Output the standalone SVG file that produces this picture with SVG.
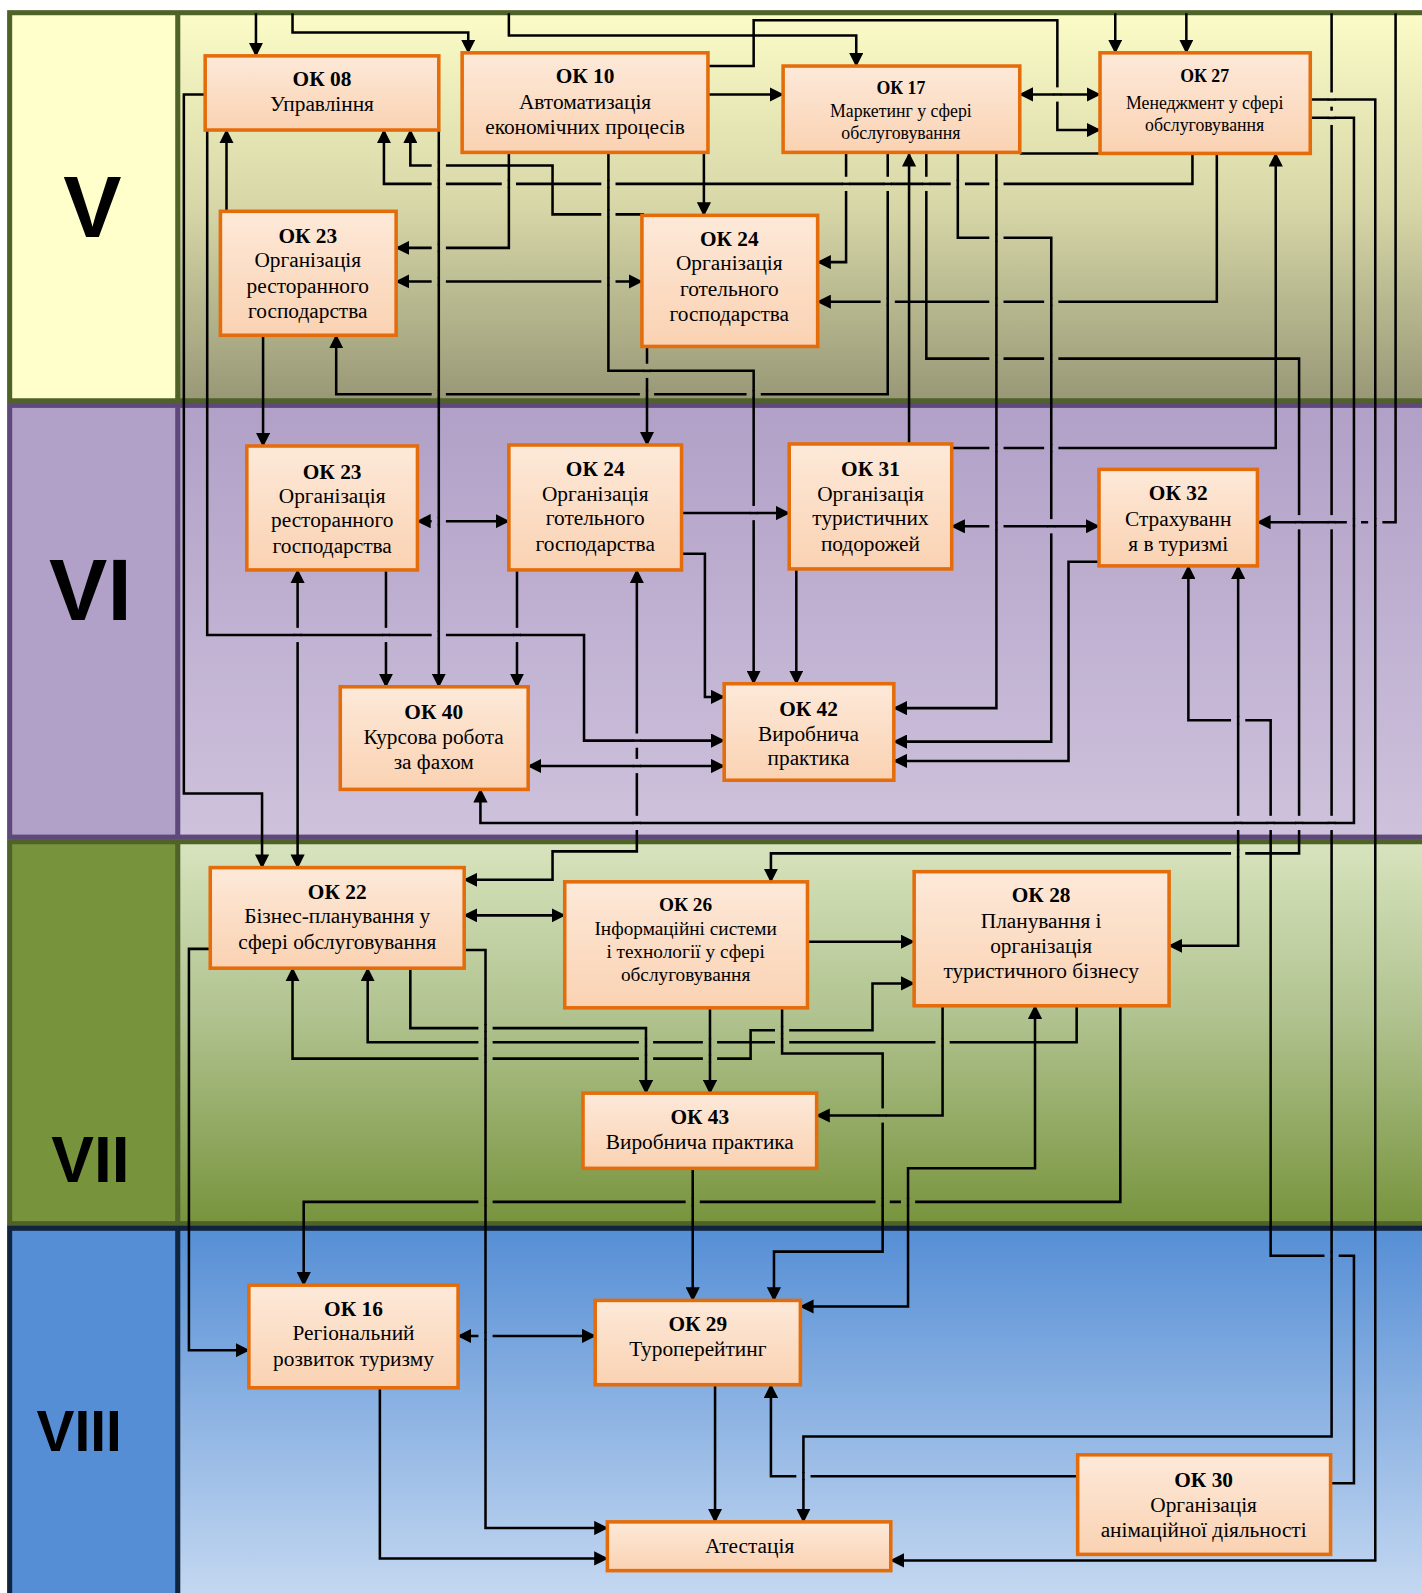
<svg xmlns="http://www.w3.org/2000/svg" width="1422" height="1593" viewBox="0 0 1422 1593">
<defs>
<style>
.box{fill:url(#gBox);stroke:#E46C0A;stroke-width:3.5}
.t{font-family:"Liberation Serif","Times New Roman",serif;font-size:21px;text-anchor:middle;fill:#000}
.tb{font-weight:bold}
.s{font-size:17.5px}
.m{font-size:19px}
.lab{font-family:"Liberation Sans",Arial,sans-serif;font-weight:bold;text-anchor:middle;fill:#000}
.c{fill:none;stroke:#000;stroke-width:2.5}
.a{marker-end:url(#ah)}
.b{marker-start:url(#ah);marker-end:url(#ah)}
.gv{fill:url(#gV)}
.gvi{fill:url(#gVI)}
.gvii{fill:url(#gVII)}
.gviii{fill:url(#gVIII)}
</style>
<marker id="ah" viewBox="0 0 14 14" refX="13" refY="7" markerWidth="14" markerHeight="14" markerUnits="userSpaceOnUse" orient="auto-start-reverse"><path d="M0,0 L14,7 L0,14 z" fill="#000"/></marker>
<linearGradient id="gBox" x1="0" y1="0" x2="0" y2="1"><stop offset="0" stop-color="#FDE9D9"/><stop offset="1" stop-color="#FAD2B2"/></linearGradient>
<linearGradient id="gV" gradientUnits="userSpaceOnUse" x1="0" y1="12" x2="0" y2="397"><stop offset="0" stop-color="#FCFCC8"/><stop offset="0.5" stop-color="#D6D6A7"/><stop offset="1" stop-color="#979776"/></linearGradient>
<linearGradient id="gVI" gradientUnits="userSpaceOnUse" x1="0" y1="397" x2="0" y2="827"><stop offset="0" stop-color="#B1A0C7"/><stop offset="1" stop-color="#CEC2DC"/></linearGradient>
<linearGradient id="gVII" gradientUnits="userSpaceOnUse" x1="0" y1="827" x2="0" y2="1207"><stop offset="0" stop-color="#D8E4BE"/><stop offset="0.45" stop-color="#B1C390"/><stop offset="1" stop-color="#77933C"/></linearGradient>
<linearGradient id="gVIII" gradientUnits="userSpaceOnUse" x1="0" y1="1207" x2="0" y2="1577"><stop offset="0" stop-color="#558ED5"/><stop offset="1" stop-color="#C6D9F1"/></linearGradient>
</defs>
<rect x="0" y="0" width="1422" height="1593" fill="#FFFFFF"/>
<g transform="scale(1.01571 1.01594)">
<g id="bands">
<rect x="9" y="12" width="166" height="385" fill="#FFFFCC"/>
<rect class="gv" x="175" y="12" width="1235" height="385"/>
<rect x="9" y="397" width="166" height="430" fill="#B1A0C7"/>
<rect class="gvi" x="175" y="397" width="1235" height="430"/>
<rect x="9" y="827" width="166" height="380" fill="#77933C"/>
<rect class="gvii" x="175" y="827" width="1235" height="380"/>
<rect x="9" y="1207" width="166" height="370" fill="#558ED5"/>
<rect class="gviii" x="175" y="1207" width="1235" height="370"/>
<rect x="9.5" y="12.5" width="1400" height="382" fill="none" stroke="#4F6228" stroke-width="5"/>
<line x1="175" y1="12" x2="175" y2="395" stroke="#4F6228" stroke-width="5"/>
<rect x="9.5" y="399" width="1400" height="425" fill="none" stroke="#5F497A" stroke-width="5"/>
<line x1="175" y1="399" x2="175" y2="824" stroke="#5F497A" stroke-width="5"/>
<rect x="9.5" y="828.5" width="1400" height="376" fill="none" stroke="#4F6228" stroke-width="5"/>
<line x1="175" y1="828" x2="175" y2="1205" stroke="#4F6228" stroke-width="5"/>
<rect x="9.5" y="1209" width="1400" height="400" fill="none" stroke="#10243E" stroke-width="5"/>
<line x1="175" y1="1209" x2="175" y2="1580" stroke="#10243E" stroke-width="5"/>
<text class="lab" x="91" y="233" font-size="86">V</text>
<text class="lab" x="89" y="610" font-size="86">VI</text>
<text class="lab" x="89" y="1163" font-size="63">VII</text>
<text class="lab" x="78" y="1428" font-size="56">VIII</text>
</g>
<g id="connectors">
<path class="c a" d="M252,13 V55"/>
<path class="c a" d="M288,13 V32 H461 V52"/>
<path class="c a" d="M501,13 V35 H843 V65"/>
<path class="c a" d="M697,65 H742 V20 H1041 V128 H1083"/>
<path class="c a" d="M697,93 H771"/>
<path class="c b" d="M1004,93 H1083"/>
<path class="c a" d="M1098,13 V52"/>
<path class="c a" d="M1168,13 V52"/>
<path class="c" d="M1004,151 H1083"/>
<path class="c a" d="M1290,98 H1354 V1536 H877"/>
<path class="c a" d="M1290,116 H1333 V810 H473 V777"/>
<path class="c a" d="M1374,13 V514 H1238"/>
<path class="c a" d="M1311,13 V1414 H791 V1498"/>
<path class="c a" d="M912,151 V353 H1279 V840 H759 V868"/>
<path class="c a" d="M833,151 V258 H805"/>
<path class="c a" d="M874,151 V388 H331 V330"/>
<path class="c a" d="M895,437 V151"/>
<path class="c a" d="M943,151 V234 H1035 V730 H880"/>
<path class="c a" d="M981,151 V697 H880"/>
<path class="c a" d="M1174,151 V181 H378 V128"/>
<path class="c a" d="M1198,151 V297 H805"/>
<path class="c a" d="M937,441 H1256 V151"/>
<path class="c a" d="M202,93 H181 V781 H258 V854"/>
<path class="c a" d="M204,128 V625 H575 V729 H713"/>
<path class="c a" d="M432,128 V676"/>
<path class="c a" d="M223,208 V128"/>
<path class="c a" d="M634,211 H544 V163 H404 V128"/>
<path class="c a" d="M501,150 V244 H390"/>
<path class="c a" d="M599,150 V365 H742 V673"/>
<path class="c a" d="M693,150 V212"/>
<path class="c b" d="M390,277 H632"/>
<path class="c a" d="M259,330 V439"/>
<path class="c a" d="M637,341 V438"/>
<path class="c b" d="M411,513 H501"/>
<path class="c a" d="M380,561 V676"/>
<path class="c b" d="M293,561 V854"/>
<path class="c a" d="M509,561 V676"/>
<path class="c b" d="M627,561 V838 H544 V866 H457"/>
<path class="c a" d="M671,505 H777"/>
<path class="c a" d="M671,545 H694 V686 H713"/>
<path class="c b" d="M520,754 H713"/>
<path class="c a" d="M784,560 V673"/>
<path class="c b" d="M937,518 H1082"/>
<path class="c a" d="M1082,553 H1052 V749 H880"/>
<path class="c a" d="M1310,1460 H1333 V1236 H1251 V709 H1170 V557"/>
<path class="c b" d="M1219,557 V931 H1151"/>
<path class="c a" d="M795,927 H900"/>
<path class="c b" d="M288,953 V1042 H739 V1014 H859 V968 H900"/>
<path class="c a" d="M1060,990 V1026 H362 V953"/>
<path class="c a" d="M404,953 V1012 H636 V1076"/>
<path class="c a" d="M699,992 V1076"/>
<path class="c a" d="M770,992 V1037 H869 V1232 H762 V1280"/>
<path class="c a" d="M928,990 V1098 H804"/>
<path class="c b" d="M1019,990 V1150 H894 V1286 H788"/>
<path class="c a" d="M1103,990 V1183 H299 V1265"/>
<path class="c a" d="M207,934 H186 V1329 H245"/>
<path class="c a" d="M457,935 H478 V1504 H598"/>
<path class="c b" d="M457,901 H556"/>
<path class="c a" d="M682,1150 V1280"/>
<path class="c b" d="M451,1315 H586"/>
<path class="c a" d="M374,1366 V1534 H598"/>
<path class="c a" d="M704,1363 V1498"/>
<path class="c a" d="M1061,1453 H759 V1363"/>
<g id="line-jumps-h">
<rect class="gv" x="425" y="160" width="14" height="6"/><path class="c" d="M432,159 V167"/>
<rect class="gv" x="425" y="178" width="14" height="6"/><path class="c" d="M432,177 V185"/>
<rect class="gv" x="494" y="178" width="14" height="6"/><path class="c" d="M501,177 V185"/>
<rect class="gv" x="592" y="178" width="14" height="6"/><path class="c" d="M599,177 V185"/>
<rect class="gv" x="936" y="178" width="14" height="6"/><path class="c" d="M943,177 V185"/>
<rect class="gv" x="974" y="178" width="14" height="6"/><path class="c" d="M981,177 V185"/>
<rect class="gv" x="592" y="207" width="14" height="6"/><path class="c" d="M599,206 V214"/>
<rect class="gv" x="974" y="231" width="14" height="6"/><path class="c" d="M981,230 V238"/>
<rect class="gv" x="425" y="241" width="14" height="6"/><path class="c" d="M432,240 V248"/>
<rect class="gv" x="425" y="274" width="14" height="6"/><path class="c" d="M432,273 V281"/>
<rect class="gv" x="592" y="274" width="14" height="6"/><path class="c" d="M599,273 V281"/>
<rect class="gv" x="867" y="294" width="14" height="6"/><path class="c" d="M874,293 V301"/>
<rect class="gv" x="974" y="294" width="14" height="6"/><path class="c" d="M981,293 V301"/>
<rect class="gv" x="1028" y="294" width="14" height="6"/><path class="c" d="M1035,293 V301"/>
<rect class="gv" x="974" y="350" width="14" height="6"/><path class="c" d="M981,349 V357"/>
<rect class="gv" x="1028" y="350" width="14" height="6"/><path class="c" d="M1035,349 V357"/>
<rect class="gv" x="425" y="385" width="14" height="6"/><path class="c" d="M432,384 V392"/>
<rect class="gv" x="630" y="385" width="14" height="6"/><path class="c" d="M637,384 V392"/>
<rect class="gv" x="735" y="385" width="14" height="6"/><path class="c" d="M742,384 V392"/>
<rect class="gvi" x="974" y="438" width="14" height="6"/><path class="c" d="M981,437 V445"/>
<rect class="gvi" x="1028" y="438" width="14" height="6"/><path class="c" d="M1035,437 V445"/>
<rect class="gvi" x="425" y="510" width="14" height="6"/><path class="c" d="M432,509 V517"/>
<rect class="gvi" x="974" y="515" width="14" height="6"/><path class="c" d="M981,514 V522"/>
<rect class="gvi" x="1326" y="511" width="14" height="6"/><path class="c" d="M1333,510 V518"/>
<rect class="gvi" x="1347" y="511" width="14" height="6"/><path class="c" d="M1354,510 V518"/>
<rect class="gvi" x="425" y="622" width="14" height="6"/><path class="c" d="M432,621 V629"/>
<rect class="gvi" x="1212" y="706" width="14" height="6"/><path class="c" d="M1219,705 V713"/>
<rect class="gvii" x="1212" y="837" width="14" height="6"/><path class="c" d="M1219,836 V844"/>
<rect class="gvii" x="471" y="1009" width="14" height="6"/><path class="c" d="M478,1008 V1016"/>
<rect class="gvii" x="763" y="1011" width="14" height="6"/><path class="c" d="M770,1010 V1018"/>
<rect class="gvii" x="471" y="1023" width="14" height="6"/><path class="c" d="M478,1022 V1030"/>
<rect class="gvii" x="629" y="1023" width="14" height="6"/><path class="c" d="M636,1022 V1030"/>
<rect class="gvii" x="692" y="1023" width="14" height="6"/><path class="c" d="M699,1022 V1030"/>
<rect class="gvii" x="763" y="1023" width="14" height="6"/><path class="c" d="M770,1022 V1030"/>
<rect class="gvii" x="921" y="1023" width="14" height="6"/><path class="c" d="M928,1022 V1030"/>
<rect class="gvii" x="471" y="1039" width="14" height="6"/><path class="c" d="M478,1038 V1046"/>
<rect class="gvii" x="629" y="1039" width="14" height="6"/><path class="c" d="M636,1038 V1046"/>
<rect class="gvii" x="692" y="1039" width="14" height="6"/><path class="c" d="M699,1038 V1046"/>
<rect class="gvii" x="471" y="1180" width="14" height="6"/><path class="c" d="M478,1179 V1187"/>
<rect class="gvii" x="675" y="1180" width="14" height="6"/><path class="c" d="M682,1179 V1187"/>
<rect class="gvii" x="862" y="1180" width="14" height="6"/><path class="c" d="M869,1179 V1187"/>
<rect class="gvii" x="887" y="1180" width="14" height="6"/><path class="c" d="M894,1179 V1187"/>
<rect class="gviii" x="1304" y="1233" width="14" height="6"/><path class="c" d="M1311,1232 V1240"/>
<rect class="gviii" x="471" y="1312" width="14" height="6"/><path class="c" d="M478,1311 V1319"/>
<rect class="gviii" x="784" y="1450" width="14" height="6"/><path class="c" d="M791,1449 V1457"/>
</g>
<g id="line-jumps-v">
<rect class="gv" x="1038" y="86" width="6" height="14"/><path class="c" d="M1037,93 H1045"/>
<rect class="gv" x="1308" y="91" width="6" height="14"/><path class="c" d="M1307,98 H1315"/>
<rect class="gv" x="1308" y="109" width="6" height="14"/><path class="c" d="M1307,116 H1315"/>
<rect class="gv" x="830" y="174" width="6" height="14"/><path class="c" d="M829,181 H837"/>
<rect class="gv" x="871" y="174" width="6" height="14"/><path class="c" d="M870,181 H878"/>
<rect class="gv" x="909" y="174" width="6" height="14"/><path class="c" d="M908,181 H916"/>
<rect class="gv" x="634" y="358" width="6" height="14"/><path class="c" d="M633,365 H641"/>
<rect class="gvi" x="739" y="498" width="6" height="14"/><path class="c" d="M738,505 H746"/>
<rect class="gvi" x="1276" y="507" width="6" height="14"/><path class="c" d="M1275,514 H1283"/>
<rect class="gvi" x="1308" y="507" width="6" height="14"/><path class="c" d="M1307,514 H1315"/>
<rect class="gvi" x="1032" y="511" width="6" height="14"/><path class="c" d="M1031,518 H1039"/>
<rect class="gvi" x="290" y="618" width="6" height="14"/><path class="c" d="M289,625 H297"/>
<rect class="gvi" x="377" y="618" width="6" height="14"/><path class="c" d="M376,625 H384"/>
<rect class="gvi" x="506" y="618" width="6" height="14"/><path class="c" d="M505,625 H513"/>
<rect class="gvi" x="624" y="722" width="6" height="14"/><path class="c" d="M623,729 H631"/>
<rect class="gvi" x="624" y="747" width="6" height="14"/><path class="c" d="M623,754 H631"/>
<rect class="gvi" x="624" y="803" width="6" height="14"/><path class="c" d="M623,810 H631"/>
<rect class="gvi" x="1216" y="803" width="6" height="14"/><path class="c" d="M1215,810 H1223"/>
<rect class="gvi" x="1248" y="803" width="6" height="14"/><path class="c" d="M1247,810 H1255"/>
<rect class="gvi" x="1276" y="803" width="6" height="14"/><path class="c" d="M1275,810 H1283"/>
<rect class="gvi" x="1308" y="803" width="6" height="14"/><path class="c" d="M1307,810 H1315"/>
<rect class="gvii" x="866" y="1091" width="6" height="14"/><path class="c" d="M865,1098 H873"/>
</g>
</g>
<g id="n-ok08"><rect class="box" x="202" y="55" width="230" height="73"/><text class="t tb" x="317" y="85">ОК 08</text><text class="t" x="317" y="109">Управління</text></g>
<g id="n-ok10"><rect class="box" x="455" y="52" width="242" height="98"/><text class="t tb" x="576" y="82">ОК 10</text><text class="t" x="576" y="107">Автоматизація</text><text class="t" x="576" y="132">економічних процесів</text></g>
<g id="n-ok17"><rect class="box" x="771" y="65" width="233" height="85"/><text class="t s tb" x="887" y="93">ОК 17</text><text class="t s" x="887" y="115">Маркетинг у сфері</text><text class="t s" x="887" y="137">обслуговування</text></g>
<g id="n-ok27"><rect class="box" x="1083" y="52" width="207" height="99"/><text class="t s tb" x="1186" y="81">ОК 27</text><text class="t s" x="1186" y="107">Менеджмент у сфері</text><text class="t s" x="1186" y="129">обслуговування</text></g>
<g id="n-ok23-v"><rect class="box" x="217" y="208" width="173" height="122"/><text class="t tb" x="303" y="239">ОК 23</text><text class="t" x="303" y="263">Організація</text><text class="t" x="303" y="288">ресторанного</text><text class="t" x="303" y="313">господарства</text></g>
<g id="n-ok24-v"><rect class="box" x="632" y="212" width="173" height="129"/><text class="t tb" x="718" y="242">ОК 24</text><text class="t" x="718" y="266">Організація</text><text class="t" x="718" y="291">готельного</text><text class="t" x="718" y="316">господарства</text></g>
<g id="n-ok23-vi"><rect class="box" x="243" y="439" width="168" height="122"/><text class="t tb" x="327" y="471">ОК 23</text><text class="t" x="327" y="495">Організація</text><text class="t" x="327" y="519">ресторанного</text><text class="t" x="327" y="544">господарства</text></g>
<g id="n-ok24-vi"><rect class="box" x="501" y="438" width="170" height="123"/><text class="t tb" x="586" y="469">ОК 24</text><text class="t" x="586" y="493">Організація</text><text class="t" x="586" y="517">готельного</text><text class="t" x="586" y="542">господарства</text></g>
<g id="n-ok31"><rect class="box" x="777" y="437" width="160" height="123"/><text class="t tb" x="857" y="469">ОК 31</text><text class="t" x="857" y="493">Організація</text><text class="t" x="857" y="517">туристичних</text><text class="t" x="857" y="542">подорожей</text></g>
<g id="n-ok32"><rect class="box" x="1082" y="462" width="156" height="95"/><text class="t tb" x="1160" y="492">ОК 32</text><text class="t" x="1160" y="518">Страхуванн</text><text class="t" x="1160" y="542">я в туризмі</text></g>
<g id="n-ok40"><rect class="box" x="335" y="676" width="185" height="101"/><text class="t tb" x="427" y="708">ОК 40</text><text class="t" x="427" y="732">Курсова робота</text><text class="t" x="427" y="757">за фахом</text></g>
<g id="n-ok42"><rect class="box" x="713" y="673" width="167" height="95"/><text class="t tb" x="796" y="705">ОК 42</text><text class="t" x="796" y="729">Виробнича</text><text class="t" x="796" y="753">практика</text></g>
<g id="n-ok22"><rect class="box" x="207" y="854" width="250" height="99"/><text class="t tb" x="332" y="885">ОК 22</text><text class="t" x="332" y="909">Бізнес-планування у</text><text class="t" x="332" y="934">сфері обслуговування</text></g>
<g id="n-ok26"><rect class="box" x="556" y="868" width="239" height="124"/><text class="t m tb" x="675" y="897">ОК 26</text><text class="t m" x="675" y="920">Інформаційні системи</text><text class="t m" x="675" y="943">і технології у сфері</text><text class="t m" x="675" y="966">обслуговування</text></g>
<g id="n-ok28"><rect class="box" x="900" y="858" width="251" height="132"/><text class="t tb" x="1025" y="888">ОК 28</text><text class="t" x="1025" y="913">Планування і</text><text class="t" x="1025" y="938">організація</text><text class="t" x="1025" y="963">туристичного бізнесу</text></g>
<g id="n-ok43"><rect class="box" x="574" y="1076" width="230" height="74"/><text class="t tb" x="689" y="1106">ОК 43</text><text class="t" x="689" y="1131">Виробнича практика</text></g>
<g id="n-ok16"><rect class="box" x="245" y="1265" width="206" height="101"/><text class="t tb" x="348" y="1295">ОК 16</text><text class="t" x="348" y="1319">Регіональний</text><text class="t" x="348" y="1345">розвиток туризму</text></g>
<g id="n-ok29"><rect class="box" x="586" y="1280" width="202" height="83"/><text class="t tb" x="687" y="1310">ОК 29</text><text class="t" x="687" y="1335">Туроперейтинг</text></g>
<g id="n-att"><rect class="box" x="598" y="1498" width="279" height="48"/><text class="t" x="738" y="1529">Атестація</text></g>
<g id="n-ok30"><rect class="box" x="1061" y="1432" width="249" height="98"/><text class="t tb" x="1185" y="1464">ОК 30</text><text class="t" x="1185" y="1488">Організація</text><text class="t" x="1185" y="1513">анімаційної діяльності</text></g>
</g>
</svg>
